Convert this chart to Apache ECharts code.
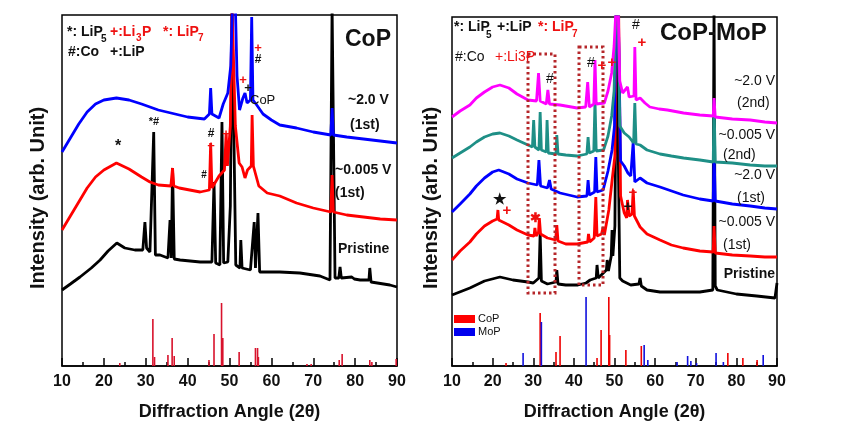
<!DOCTYPE html>
<html><head><meta charset="utf-8">
<script src="https://cdn.jsdelivr.net/npm/echarts@6/dist/echarts.min.js"></script>
<style>html,body{margin:0;padding:0;background:#fff}#c{width:842px;height:433px}</style>
</head><body><div id="c"></div>
<script>
// ---------- DATA (x = 2θ in degrees, y = arbitrary intensity units) ----------
const leftBlue = [[10,214],[12,228],[14,242],[16,254],[18,262],[20,266],[23,268],[26,266],[29,262],[31,259],[33,256],[36,253],[40,249],[44,247],[45.2,252],[45.5,278],[45.8,252],[47.5,248],[48.5,262],[49.6,273],[50.3,300],[50.7,360],[51.4,360],[51.8,290],[52.4,256],[53.2,268],[53.7,273],[54.2,263],[55.0,266],[55.3,349],[55.6,266],[56.5,261],[58,252],[60,246],[62,241],[66,238],[70,234],[74.2,231],[74.5,258],[74.8,231],[78,229],[82,227],[86,225],[90,223]];
const leftRed = [[10,136],[12,150],[14,164],[16,178],[18,189],[20,196],[23,203],[26,197],[29,189],[31,184],[33,181],[36,180],[36.4,198],[36.7,180],[38,178],[40.5,176],[43,174],[45.2,176],[45.5,223],[45.8,178],[47.5,190],[48.8,196],[49.2,233],[49.5,200],[50.2,240],[50.6,360],[51.0,360],[51.4,240],[52.3,203],[53,199],[53.7,188],[54.3,196],[55.2,200],[55.4,251],[55.7,200],[57,180],[59,173],[62,170],[66,163],[70,158],[74.2,154],[74.5,191],[74.8,154],[78,151],[82,149],[86,147],[90,146]];
const leftBlack = [[10,76],[12,82],[14.3,89],[17,98],[19.1,106],[21,115],[23.1,123],[25,118],[27.4,116],[29.3,116],[29.8,144],[30.2,118],[31,114],[31.9,234],[32.3,111],[33.4,111],[35.3,108],[35.8,146],[36.1,108],[36.4,198],[36.8,107],[38.2,106],[43,104],[45.8,104],[46.3,184],[46.7,103],[47.7,101],[48.2,244],[48.6,103],[49.6,104],[50.2,160],[50.6,360],[51.0,360],[51.5,101],[52.5,98],[52.7,126],[53,98],[55,96],[55.9,144],[56.2,98],[56.8,153],[57.2,94],[62,94],[66.8,93],[71.6,90],[74,86],[74.5,360],[74.9,360],[75.2,88],[76.1,88],[76.4,99],[76.7,88],[79.2,89],[79.5,91],[79.8,87],[81.2,86],[83.3,86],[83.5,98],[83.8,84],[88.3,81],[90,79]];
const leftCoPRef = [[23.8,3],[31.7,47],[32.1,9],[35.3,11],[36.3,28],[36.8,10],[45.1,6],[46.3,32],[48.1,63],[48.4,28],[52.3,14],[56.2,18],[56.7,18],[56.9,9],[68.5,2],[69.5,2],[76.2,6],[76.9,12],[83.5,6],[84.0,4],[89.8,7]];

const rightMagenta = [[10,249],[12,255],[14.4,261],[16,268],[18,274],[20,279],[21.8,281],[24,278],[26,272],[28.7,266],[30.8,265],[31.3,293],[31.7,265],[33.2,262],[33.6,276],[34,262],[36.6,261],[40.8,258],[42.9,259],[43.4,284],[43.8,259],[44.9,262],[45.2,306],[45.5,262],[47.5,263],[48.4,275],[49.3,293],[49.9,320],[50.4,360],[50.9,360],[51.3,285],[52.0,273],[53.2,279],[53.6,269],[54.8,270],[55.0,319],[55.3,266],[56.3,268],[57.5,263],[58.7,259],[61,257],[63,256],[67,253],[71,251],[74.3,250],[74.5,268],[74.8,249],[79,247],[83.4,246],[87,244],[90,243]];
const rightTeal = [[10,208],[12,213],[14.4,219],[16,224],[18,229],[20,232],[21.8,233],[24,230],[26,226],[28.7,221],[29.8,219],[30.1,246],[30.4,219],[31.4,216],[31.7,254],[32,216],[33.2,214],[33.4,246],[33.7,213],[35.6,212],[35.8,231],[36.1,212],[38,211],[40.8,210],[43.2,212],[43.5,229],[43.8,213],[44.9,215],[45.2,266],[45.5,215],[47.3,216],[48.4,230],[49.3,250],[49.9,275],[50.4,360],[50.9,360],[51.3,240],[52.4,233],[53.6,229],[54.7,223],[55.0,263],[55.3,222],[56.3,221],[58,216],[61.2,212],[64,210],[67,208],[71,206],[74.3,204],[74.5,266],[74.8,204],[79,203],[83.4,201],[87,200],[90,200]];
const rightBlue = [[10,154],[12,162],[14.4,172],[16,180],[18,188],[20,194],[21.5,196],[24,192],[26,187],[28.7,183],[31.0,181],[31.4,206],[31.8,180],[33.5,178],[34,186],[34.4,177],[36.6,173],[40.8,169],[43.2,170],[43.5,186],[43.8,171],[45.1,174],[45.4,209],[45.7,174],[47.2,176],[48.4,195],[49.4,216],[50,240],[50.4,360],[50.9,360],[51.5,205],[52.4,200],[53.3,193],[54.0,190],[54.6,224],[55.0,184],[56.3,188],[58,183],[61.2,179],[66.9,171],[71,167],[74.3,165],[74.5,215],[74.8,165],[79,162],[83.4,160],[87,158],[90,157]];
const rightRed = [[10,106],[12,115],[14.4,124],[16,132],[18,140],[20,145],[21.1,147],[21.3,156],[21.5,146],[24,141],[26,136],[28.7,131],[30.2,130],[30.4,138],[30.7,130],[31.3,134],[31.5,148],[31.8,132],[33.5,128],[35.5,126],[35.8,141],[36.1,125],[38,122],[40.8,122],[43.4,124],[43.6,132],[43.9,124],[45.0,128],[45.4,169],[45.7,130],[46.8,132],[47.2,139],[47.5,131],[48.6,156],[49.5,189],[50.1,210],[50.4,360],[51.0,360],[51.5,170],[52.4,153],[53.0,148],[53.2,166],[53.6,150],[54.3,152],[54.6,176],[54.9,150],[56.3,139],[58,132],[61.2,126],[64,121],[66.9,118],[71,115],[74.3,114],[74.5,140],[74.8,113],[79,111],[83.4,110],[87,109],[90,109]];
const rightBlack = [[10,71],[14.4,78],[18,85],[21.8,89],[25,86],[28.7,84],[30,83],[31.4,88],[31.7,133],[32.0,85],[33.5,82],[35.6,84],[35.8,96],[36.1,82],[38,81],[41,81],[43,83],[44,86],[45.5,88],[45.7,101],[46,88],[47,92],[48.0,96],[48.2,106],[48.5,95],[49.2,110],[49.4,136],[49.6,110],[50.1,140],[50.5,360],[50.9,360],[51.3,88],[52,85],[54,81],[56,82],[56.3,88],[56.6,80],[58,76],[61.2,74],[66,74],[71,74],[74.2,76],[74.5,360],[74.8,80],[75.3,76],[80,72],[85,70],[89.5,68],[90,83]];
const rightCoPRef = [[23.3,3],[31.7,53],[35.6,14],[36.6,30],[45.7,8],[46.7,36],[48.6,69],[48.8,31],[52.8,16],[56.6,20],[77.9,13],[81.6,8],[85.1,6]];
const rightMoPRef = [[27.5,13],[32.0,44],[43.0,69],[57.3,21],[58.2,6],[65.4,4],[68.0,10],[68.8,5],[70.2,3],[75.0,13],[76.8,4],[86.6,11]];

// ---------- CHART ----------
const FF = '"Liberation Sans", Arial, sans-serif';
const chart = echarts.init(document.getElementById('c'), null, {renderer:'canvas'});

function xAx(grid){
  return {gridIndex:grid,type:'value',min:10,max:90,interval:10,
    axisLine:{lineStyle:{color:'#000',width:1.5}},
    axisTick:{inside:true,length:8,lineStyle:{color:'#000',width:1.5}},
    minorTick:{show:true,splitNumber:2,length:4,lineStyle:{color:'#000',width:1.5}},
    splitLine:{show:false},minorSplitLine:{show:false},
    axisLabel:{fontSize:16,fontWeight:'bold',color:'#111',margin:8,fontFamily:FF},
    name:'Diffraction Angle (2θ)',nameLocation:'middle',nameGap:37,
    nameTextStyle:{fontSize:18,fontWeight:'bold',color:'#111',fontFamily:FF}};
}
function line(data,color,g){
  return {type:'line',xAxisIndex:g,yAxisIndex:g,data:data,showSymbol:false,symbol:'none',
    lineStyle:{color:color,width:2.8},clip:true,z:3};
}
function bars(data,color,g){
  return {type:'bar',xAxisIndex:g,yAxisIndex:g,data:data,barWidth:1.6,barGap:'-100%',
    itemStyle:{color:color},z:2};
}
function t(x,y,text,o){
  o=o||{};
  return {type:'text',x:x,y:y,z:10,rotation:o.rot||0,
    style:{text:text,fill:o.c||'#111',font:(o.w||'bold')+' '+(o.s||14)+'px '+FF,
      textAlign:o.a||'left',textVerticalAlign:'middle'}};
}
const RED='#ee1111';
const graphics = [
  // left legend
  t(67,32,'*: LiP',{s:14}), t(101,39,'5',{s:10}),
  t(110,32,'+:Li',{c:RED,s:14}), t(136,38,'3',{c:RED,s:10}), t(142,32,'P',{c:RED,s:14}),
  t(163,32,'*: LiP',{c:RED,s:14}), t(198,38,'7',{c:RED,s:10}),
  t(68,52,'#:Co',{s:14}), t(110,52,'+:LiP',{s:14}),
  t(345,40,'CoP',{s:23}),
  t(348,100,'~2.0 V',{s:14}), t(350,125,'(1st)',{s:14}),
  t(335,170,'~0.005 V',{s:14}), t(335,193,'(1st)',{s:14}),
  t(338,249,'Pristine',{s:14}),
  // left peak markers
  t(118,147,'*',{s:16,a:'center'}), t(154,122,'*#',{s:11,a:'center'}),
  t(211,134,'#',{s:12,a:'center'}), t(211,146,'+',{c:RED,s:13,a:'center'}),
  t(226,134,'+',{c:RED,s:13,a:'center'}), t(204,175,'#',{s:10,a:'center'}),
  t(243,80,'+',{c:RED,s:13,a:'center'}), t(248,88,'+',{s:13,a:'center'}),
  t(250,100,'CoP',{s:13,w:'normal'}),
  t(258,48,'+',{c:RED,s:13,a:'center'}), t(258,60,'#',{s:12,a:'center'}),
  // y axis titles
  t(38,198,'Intensity (arb. Unit)',{s:20,a:'center',rot:Math.PI/2}),
  t(431,198,'Intensity (arb. Unit)',{s:20,a:'center',rot:Math.PI/2}),
  // right legend
  t(454,27,'*: LiP',{s:14}), t(486,35,'5',{s:10}),
  t(497,27,'+:LiP',{s:14}),
  t(538,27,'*: LiP',{c:RED,s:14}), t(572,34,'7',{c:RED,s:10}),
  t(455,57,'#:Co',{s:14,w:'normal'}), t(495,57,'+:Li3P',{c:RED,s:14,w:'normal'}),
  t(660,33,'CoP-MoP',{s:24}),
  t(775,81,'~2.0 V',{s:14,w:'normal',a:'right'}), t(737,103,'(2nd)',{s:14,w:'normal'}),
  t(775,135,'~0.005 V',{s:14,w:'normal',a:'right'}), t(723,155,'(2nd)',{s:14,w:'normal'}),
  t(775,175,'~2.0 V',{s:14,w:'normal',a:'right'}), t(737,198,'(1st)',{s:14,w:'normal'}),
  t(775,222,'~0.005 V',{s:14,w:'normal',a:'right'}), t(723,245,'(1st)',{s:14,w:'normal'}),
  t(775,274,'Pristine',{s:14,a:'right'}),
  // right peak markers
  t(550,79,'#',{s:14,a:'center',w:'normal'}),
  t(591,63,'#',{s:14,a:'center',w:'normal'}), t(602,66,'+',{c:RED,s:15,a:'center'}), t(612,63,'+',{c:RED,s:15,a:'center'}),
  t(636,25,'#',{s:14,a:'center',w:'normal'}), t(642,43,'+',{c:RED,s:15,a:'center'}),
  t(499,200,'★',{s:15,a:'center'}), t(507,211,'+',{c:RED,s:15,a:'center'}),
  t(535,218,'✱',{c:RED,s:13,a:'center'}),
  t(628,207,'+',{s:15,a:'center'}), t(633,193,'+',{c:RED,s:15,a:'center'}),
  // right bar legend
  {type:'rect',shape:{x:454,y:315,width:21,height:8},style:{fill:'#ff0000'},z:10},
  {type:'rect',shape:{x:454,y:328,width:21,height:8},style:{fill:'#0000ee'},z:10},
  t(478,319,'CoP',{s:11,w:'normal'}), t(478,332,'MoP',{s:11,w:'normal'}),
  // dotted boxes
  {type:'rect',shape:{x:528,y:54,width:27,height:239},style:{fill:'none',stroke:'#b5262a',lineWidth:3,lineDash:[2.5,3]},z:9},
  {type:'rect',shape:{x:579,y:47,width:24,height:238},style:{fill:'none',stroke:'#b5262a',lineWidth:3,lineDash:[2.5,3]},z:9}
];

chart.setOption({
  animation:false,
  backgroundColor:'#fff',
  grid:[
    {left:62,top:15,width:335,height:351,show:true,borderColor:'#000',borderWidth:1.5,backgroundColor:'transparent'},
    {left:452,top:17,width:325,height:349,show:true,borderColor:'#000',borderWidth:1.5,backgroundColor:'transparent'}
  ],
  xAxis:[xAx(0),xAx(1)],
  yAxis:[{gridIndex:0,type:'value',min:0,max:351,show:false},{gridIndex:1,type:'value',min:0,max:349,show:false}],
  series:[
    bars(leftCoPRef,'#d8122c',0),
    line(leftBlack,'#000000',0),
    line(leftRed,'#ff0000',0),
    line(leftBlue,'#0000ff',0),
    bars(rightCoPRef,'#ee0000',1),
    bars(rightMoPRef,'#1010dd',1),
    line(rightBlack,'#000000',1),
    line(rightRed,'#ff0000',1),
    line(rightBlue,'#0000ff',1),
    line(rightTeal,'#1e8f86',1),
    line(rightMagenta,'#ff00ff',1)
  ],
  graphic:graphics
});
</script></body></html>
